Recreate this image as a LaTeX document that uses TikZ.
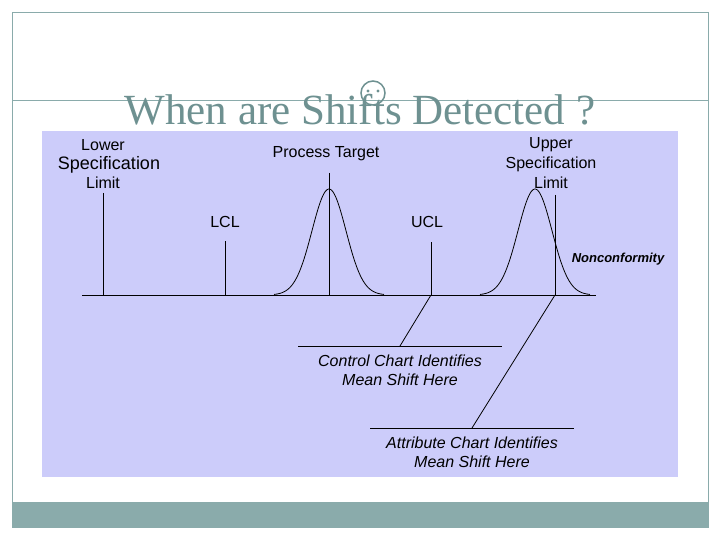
\documentclass[tikz,border=0pt]{standalone}
\usepackage{fontspec}
\setmainfont{Liberation Sans}
\newfontfamily\titlefont{Liberation Serif}
\definecolor{teal1}{HTML}{8AABAB}
\definecolor{teal2}{HTML}{6E9191}
\definecolor{panel}{HTML}{CCCCFA}
\begin{document}
\begin{tikzpicture}[x=1pt,y=-1pt,
  lbl/.style={font=\fontsize{16}{18}\selectfont,inner sep=0pt,align=center},
  note/.style={font=\fontsize{16}{19}\selectfont\itshape,inner sep=0pt,align=center},
  ln/.style={draw=black,line width=0.8pt}]
\useasboundingbox (0,0) rectangle (720,540);
\fill[white] (0,0) rectangle (720,540);
\draw[teal1,line width=0.8pt] (12,12) rectangle (708,527);
\fill[teal1] (12,502) rectangle (708,527);
\draw[teal1,line width=0.8pt] (12,100) -- (708,100);
\fill[panel] (42,131) rectangle (678,477);
\node[font=\titlefont\fontsize{43}{46}\selectfont,text=teal2,inner sep=0pt] (title) at (360,110) {When are Shifts Detected ?};
\draw[teal2,line width=1.5pt] (373,93) circle (12);
\fill[teal2] (368,91) circle (1.6) (378,91) circle (1.6);
% baseline
\coordinate (bl) at (82,295); \coordinate (br) at (596,295);
\draw[ln] (bl) -- (br);
% vertical lines
\coordinate (lslT) at (103,193); \coordinate (lslB) at (103,295);
\draw[ln] (lslT) -- (lslB);
\coordinate (lclT) at (225,241); \coordinate (lclB) at (225,295);
\draw[ln] (lclT) -- (lclB);
\coordinate (ptT) at (329,173); \coordinate (ptB) at (329,295);
\draw[ln] (ptT) -- (ptB);
\coordinate (uclT) at (431,242); \coordinate (uclB) at (431,295);
\draw[ln] (uclT) -- (uclB);
\coordinate (uslT) at (555,195); \coordinate (uslB) at (555,295);
\draw[ln] (uslT) -- (uslB);
% curves
\draw[ln,domain=-55:55,samples=80,smooth] plot ({329+\x},{295-106*exp(-(\x/17)^2/2)});
\draw[ln,domain=-55:55,samples=80,smooth] plot ({535+\x},{295-106*exp(-(\x/17)^2/2)});
% labels
\node[lbl] (lower) at (103,145) {Lower};
\node[lbl,font=\fontsize{18}{20}\selectfont] (spec) at (109,165) {Specification};
\node[lbl] (limit) at (103,183) {Limit};
\node[lbl] (pt) at (326,154) {Process Target};
\node[lbl] (upper) at (551,145) {Upper};
\node[lbl] (spec2) at (551,164) {Specification};
\node[lbl] (limit2) at (551,183) {Limit};
\node[lbl] (lcl) at (225,222) {LCL};
\node[lbl] (ucl) at (427,222) {UCL};
\node[lbl,font=\fontsize{13}{15}\selectfont\bfseries\itshape] (nc) at (618,259) {Nonconformity};
% leaders
\coordinate (c1) at (400,346); \coordinate (c1l) at (298,346); \coordinate (c1r) at (502,346);
\draw[ln] (uclB) -- (c1);
\draw[ln] (c1l) -- (c1r);
\node[note] (cc) at (400,370) {Control Chart Identifies\\Mean Shift Here};
\coordinate (c2) at (472,428); \coordinate (c2l) at (370,428); \coordinate (c2r) at (574,428);
\draw[ln] (uslB) -- (c2);
\draw[ln] (c2l) -- (c2r);
\node[note] (ac) at (472,452) {Attribute Chart Identifies\\Mean Shift Here};
\end{tikzpicture}
\end{document}
